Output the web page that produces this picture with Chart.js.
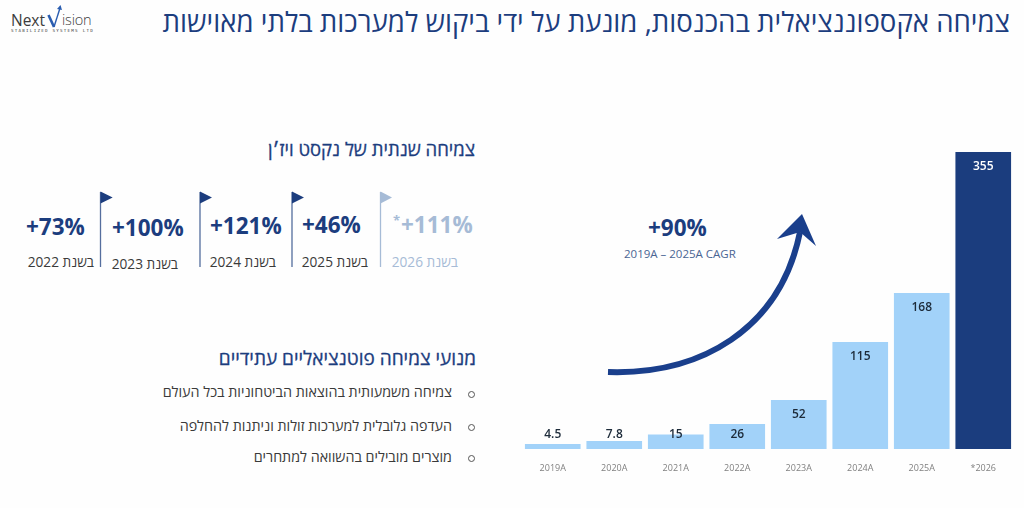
<!DOCTYPE html>
<html lang="he">
<head>
<meta charset="utf-8">
<script src="https://cdn.jsdelivr.net/npm/chart.js@4"></script>
<style>
    html, body { margin: 0; padding: 0; background: #fefefe; }
    body { position: relative; width: 1024px; height: 508px; overflow: hidden; font-family: "Open Sans", "Liberation Sans", sans-serif; }
    .txt { position: absolute; white-space: nowrap; line-height: 1; }
    .rtl { direction: rtl; }
    .navy { color: #1c3d7e; }
    .title { right: 14px; top: 8px; font-size: 27.6px; }
    .heading { font-weight: 400; -webkit-text-stroke: .3px #1c3d7e; }
    .bullet { right: 572px; font-size: 14.3px; color: #3a3a3a; }
    .dot { position: absolute; left: 468px; width: 5px; height: 5px; border: 1px solid #555; border-radius: 50%; }
    .pct { font-size: 22.5px; font-weight: 700; color: #1c3d7e; }
    .year { font-size: 13.7px; color: #3a3a3a; }
    .faded { color: #a6bbd6; }
    #chart { position: absolute; left: 522px; top: 149px; }
    #overlay { position: absolute; left: 0; top: 0; }
</style>
</head>
<body>

<div class="txt" style="left:11px;top:12.5px;font-size:15.5px;color:#3c3c3c">Next</div>
<div class="txt" style="left:62px;top:12.5px;font-size:14.5px;font-weight:300;color:#3c3c3c;letter-spacing:-.2px">ision</div>
<div class="txt" style="left:11px;top:29px;font-size:4.2px;letter-spacing:1.25px;color:#3c3c3c;font-family:'DejaVu Sans Mono',monospace">STABILIZED SYSTEMS LTD</div>

<div class="txt rtl navy title">צמיחה אקספוננציאלית בהכנסות, מונעת על ידי ביקוש למערכות בלתי מאוישות</div>

<div class="txt rtl navy heading" style="right:549px;top:140px;font-size:18.5px">צמיחה שנתית של נקסט ויז׳ן</div>

<svg id="overlay" width="1024" height="508">
    <path d="M48.5 15L54 27" stroke="#2a5db0" stroke-width="2.6" fill="none"/>
    <path d="M54 27L60 8" stroke="#2a5db0" stroke-width="1.4" fill="none"/>
    <path d="M57 9L60.5 5L62 10Z" fill="#2a5db0"/>
    <g fill="#1c3d7e" stroke="#1c3d7e">
        <path d="M100.5 192V267M200 192V267M292 192V267" stroke-width="1.3" opacity=".75" fill="none"/>
        <path d="M100.5 191.5L112.7 197.5L100.5 203.5ZM200 191.5L212 197.5L200 203.5ZM292 191.5L304 197.5L292 203.5Z" stroke="none"/>
    </g>
    <path d="M380.5 192V267" stroke="#a6bbd6" stroke-width="1.3"/>
    <path d="M380.5 191.5L392 197.5L380.5 203.5Z" fill="#a6bbd6"/>
    <path d="M608 372C700 375 780 330 800 232" stroke="#1a3f8c" stroke-width="6" fill="none"/>
    <path d="M802 214L777 239L800 232L816 246Z" fill="#1a3f8c"/>
</svg>

<div class="txt pct" style="left:26px;top:216px">+73%</div>
<div class="txt pct" style="left:112px;top:217px">+100%</div>
<div class="txt pct" style="left:210px;top:215px">+121%</div>
<div class="txt pct" style="left:302px;top:214px">+46%</div>
<div class="txt pct faded" style="left:401px;top:214px">+111%</div>
<div class="txt faded" style="left:393px;top:214px;font-size:13px;font-weight:700">*</div>

<div class="txt rtl year" style="right:930px;top:255px">בשנת 2022</div>
<div class="txt rtl year" style="right:846px;top:257px">בשנת 2023</div>
<div class="txt rtl year" style="right:748px;top:255px">בשנת 2024</div>
<div class="txt rtl year" style="right:656px;top:255px">בשנת 2025</div>
<div class="txt rtl year faded" style="right:566px;top:255px">בשנת 2026</div>

<div class="txt rtl navy heading" style="right:548px;top:349px;font-size:19px">מנועי צמיחה פוטנציאליים עתידיים</div>

<span class="dot" style="top:391px"></span>
<div class="txt rtl bullet" style="top:385px">צמיחה משמעותית בהוצאות הביטחוניות בכל העולם</div>
<span class="dot" style="top:424px"></span>
<div class="txt rtl bullet" style="top:419px">העדפה גלובלית למערכות זולות וניתנות להחלפה</div>
<span class="dot" style="top:455px"></span>
<div class="txt rtl bullet" style="top:450px">מוצרים מובילים בהשוואה למתחרים</div>

<div class="txt navy" style="left:648px;top:217px;font-size:22.5px;font-weight:700">+90%</div>
<div class="txt" style="left:624px;top:248px;font-size:11.5px;color:#4a6593">2019A – 2025A CAGR</div>

<canvas id="chart" width="492" height="324"></canvas>

<script>
const categories = ['2019A', '2020A', '2021A', '2022A', '2023A', '2024A', '2025A', '*2026'];
// printed value on each bar
const revenueLabels = ['4.5', '7.8', '15', '26', '52', '115', '168', '355'];
// the source bars are not to scale with what is printed on them, so heights are read separately
const barHeights = [5, 8, 14.5, 25, 49, 107, 156, 297];
const barColors = ['#a2d2f9', '#a2d2f9', '#a2d2f9', '#a2d2f9', '#a2d2f9', '#a2d2f9', '#a2d2f9', '#1b3d7e'];

// Draw the printed value inside the bar, small bars share one line near the base
const barValueLabels = {
    id: 'barValueLabels',
    afterDatasetsDraw(chart) {
        const ctx = chart.ctx;
        const base = chart.chartArea.bottom;
        ctx.save();
        ctx.font = '600 12px "Open Sans", sans-serif';
        ctx.textAlign = 'center';
        ctx.textBaseline = 'middle';
        chart.getDatasetMeta(0).data.forEach((bar, i) => {
            ctx.fillStyle = i === categories.length - 1 ? '#ffffff' : '#1d2b3a';
            ctx.fillText(revenueLabels[i], bar.x, Math.min(bar.y + 15, base - 14));
        });
        ctx.restore();
    }
};

new Chart(document.getElementById('chart'), {
    type: 'bar',
    data: {
        labels: categories,
        datasets: [{
            data: barHeights,
            backgroundColor: barColors,
            barPercentage: 0.905,
            categoryPercentage: 1
        }]
    },
    options: {
        responsive: false,
        animation: false,
        plugins: {
            legend: { display: false },
            tooltip: { enabled: false }
        },
        scales: {
            y: { display: false, min: 0, max: 300 },
            x: {
                grid: { display: false },
                border: { display: false },
                afterFit: scale => { scale.height = 24; },
                ticks: {
                    color: '#808080',
                    padding: 6,
                    maxRotation: 0,
                    font: { size: 9, family: '"Open Sans", sans-serif' }
                }
            }
        }
    },
    plugins: [barValueLabels]
});
</script>
</body>
</html>
